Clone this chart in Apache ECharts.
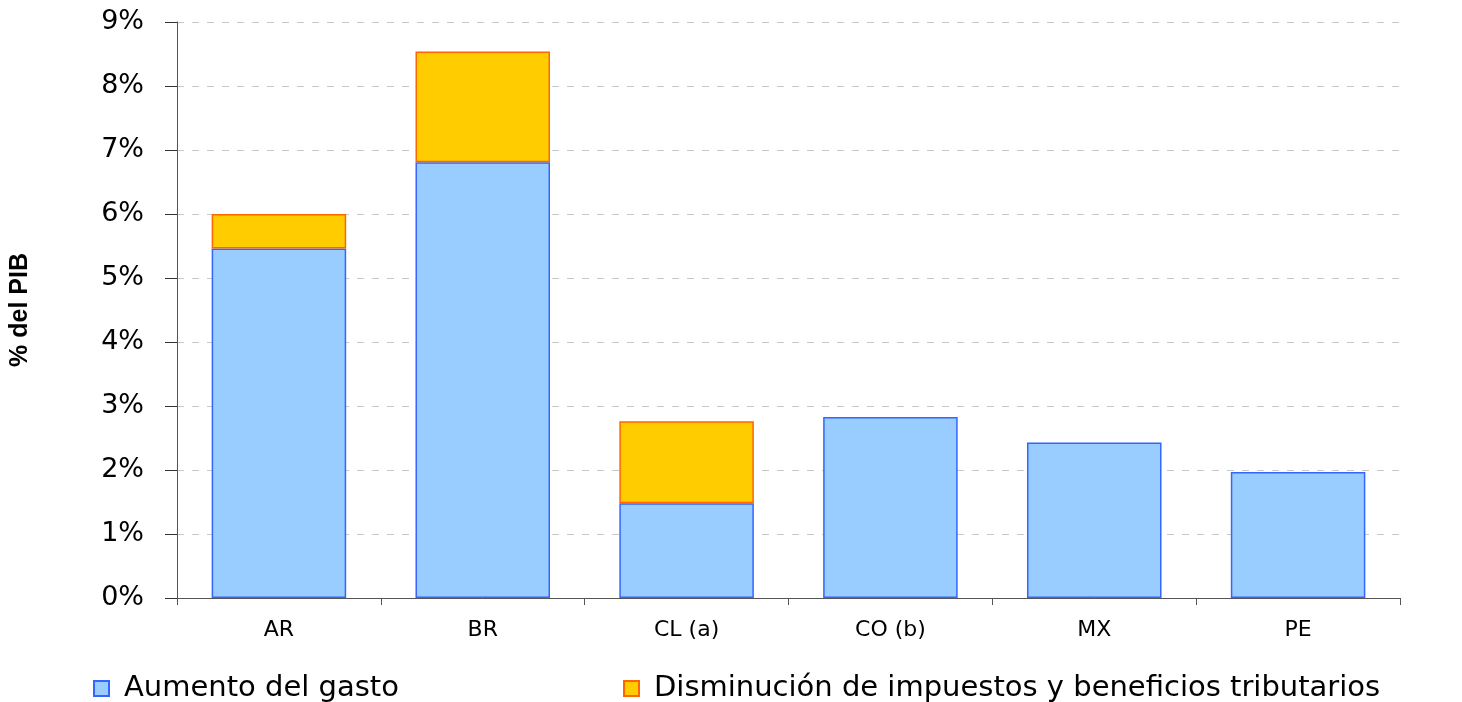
<!DOCTYPE html>
<html>
<head>
<meta charset="utf-8">
<script src="https://cdn.jsdelivr.net/npm/echarts@6/dist/echarts.min.js"></script>
<style>
html,body{margin:0;padding:0;background:#fff;}
#c{width:1462px;height:702px;}
</style>
</head>
<body>
<div id="c"></div>
<script>
const categories = ['AR', 'BR', 'CL (a)', 'CO (b)', 'MX', 'PE'];
const gasto = [5.46, 6.81, 1.48, 2.83, 2.43, 1.97];
const impuestos = [0.54, 1.73, 1.28, null, null, null];
const seriesNames = ['Aumento del gasto', 'Disminución de impuestos y beneficios tributarios'];
const yTicks = [0, 1, 2, 3, 4, 5, 6, 7, 8, 9];

const chart = echarts.init(document.getElementById('c'), null, {renderer: 'canvas'});
const font = '"DejaVu Sans", Verdana, sans-serif';
const fontB = '"Liberation Sans", Arial, sans-serif';
chart.setOption({
  backgroundColor: '#ffffff',
  animation: false,
  grid: {left: 174, right: 62, top: 22, bottom: 104, containLabel: false},
  legend: [
    {
      data: [seriesNames[0]], left: 88, top: 669, itemWidth: 15, itemHeight: 15, icon: 'rect',
      textStyle: {fontFamily: font, fontSize: 29, color: '#000', padding: [0, 0, 0, 10]}
    },
    {
      data: [seriesNames[1]], left: 618, top: 669, itemWidth: 15, itemHeight: 15, icon: 'rect',
      textStyle: {fontFamily: font, fontSize: 29, color: '#000', padding: [0, 0, 0, 10]}
    }
  ],
  xAxis: {
    type: 'category',
    data: categories,
    axisLine: {lineStyle: {color: '#555', width: 1}},
    axisTick: {show: true, length: 7, lineStyle: {color: '#555'}},
    axisLabel: {fontFamily: font, fontSize: 22, color: '#000', margin: 21}
  },
  yAxis: {
    type: 'value',
    min: 0, max: 9, interval: 1,
    name: '% del PIB',
    nameLocation: 'middle',
    nameRotate: 90,
    nameGap: 144,
    nameTextStyle: {fontFamily: fontB, fontSize: 25, fontWeight: 'bold', color: '#000'},
    axisLine: {show: true, lineStyle: {color: '#555', width: 1}},
    axisTick: {show: true, inside: false, length: 12, lineStyle: {color: '#333'}},
    axisLabel: {
      fontFamily: font, fontSize: 27, color: '#000', margin: 33,
      formatter: v => yTicks.includes(v) ? v + '%' : ''
    },
    splitLine: {show: true, lineStyle: {color: '#c8c8c8', type: [7, 8], width: 1}}
  },
  series: [
    {
      name: seriesNames[0], type: 'bar', stack: 'total', data: gasto,
      barWidth: '66%',
      itemStyle: {color: '#99CCFF', borderColor: '#3366FF', borderWidth: 1.5}
    },
    {
      name: seriesNames[1], type: 'bar', stack: 'total', data: impuestos,
      barWidth: '66%',
      itemStyle: {color: '#FFCC00', borderColor: '#FF6600', borderWidth: 1.5}
    }
  ]
});
</script>
</body>
</html>
